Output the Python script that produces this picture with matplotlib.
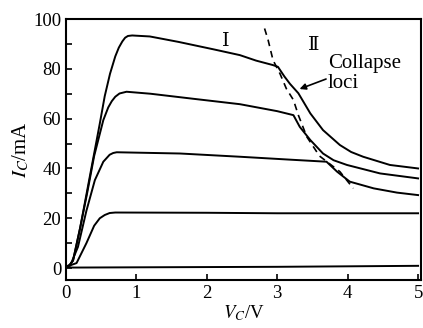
import matplotlib
matplotlib.use("Agg")
import matplotlib.pyplot as plt

plt.rcParams["font.family"] = ["Liberation Serif", "DejaVu Serif", "Noto Sans CJK SC"]
plt.rcParams["mathtext.fontset"] = "stix"

# I-V curves (V_C in V, I_C in mA)
v_93 = [0, 0.05, 0.1, 0.2, 0.3, 0.4, 0.48, 0.55, 0.625, 0.7, 0.75, 0.8, 0.84, 0.88, 0.94, 1.0,
        1.19, 1.34, 1.6, 1.8, 2.1, 2.47, 2.7, 2.94, 3.01, 3.1, 3.18, 3.30, 3.47, 3.65,
        3.89, 4.05, 4.22, 4.60, 5.0]
i_93 = [0.5, 1.2, 3, 16, 31, 46, 58, 69, 78, 85, 88.5, 91, 92.5, 93.2, 93.4, 93.3,
        93, 92.2, 90.8, 89.6, 87.8, 85.5, 83.3, 81.5, 80.8, 77, 74, 70.2, 62.1, 55.4,
        49.4, 46.6, 44.7, 41.4, 40]

v_70 = [0, 0.05, 0.1, 0.2, 0.3, 0.4, 0.53, 0.6, 0.65, 0.7, 0.76, 0.86, 1.2, 1.8, 2.47,
        3.0, 3.23, 3.32, 3.47, 3.65, 3.8, 3.99, 4.46, 5.0]
i_70 = [0.5, 1.2, 3, 16, 30, 45, 59.4, 64.5, 67, 68.8, 70.1, 70.8, 70, 68, 65.8,
        63, 61.4, 56.7, 51.4, 46, 43.3, 41.4, 38, 36]

v_47 = [0, 0.06, 0.17, 0.29, 0.41, 0.53, 0.62, 0.67, 0.72, 1.62, 2.47, 3.2, 3.70,
        3.85, 4.03, 4.37, 4.70, 5.0]
i_47 = [0.5, 1, 8.5, 23, 35.3, 42.7, 45.5, 46.2, 46.5, 46, 44.7, 43.5, 42.7,
        38.7, 34.7, 32, 30.3, 29.3]

v_22 = [0, 0.15, 0.29, 0.4, 0.48, 0.55, 0.62, 0.7, 2.0, 3.0, 5.0]
i_22 = [0.5, 2, 10, 17, 20, 21.3, 22.1, 22.3, 22.2, 22, 22]

v_1 = [0, 0.1, 1.0, 3.0, 5.0]
i_1 = [0.3, 0.2, 0.3, 0.5, 0.9]

# collapse locus (dashed)
v_loci = [2.82, 2.87, 2.94, 3.04, 3.13, 3.23, 3.30, 3.42, 3.6, 3.89, 4.08]
i_loci = [96.2, 91.6, 83.5, 78, 72, 67.5, 61.4, 52.7, 45, 38.7, 32]

fig = plt.figure(figsize=(4.23, 3.28), dpi=100)
ax = fig.add_axes([0.156, 0.1463, 0.839, 0.7957])

for v, i in [(v_93, i_93), (v_70, i_70), (v_47, i_47), (v_22, i_22), (v_1, i_1)]:
    ax.plot(v, i, color="black", lw=1.4, solid_joinstyle="round")
ax.plot(v_loci, i_loci, color="black", lw=1.2, linestyle=(0, (4, 3)))

ax.set_xlim(0, 5.04)
ax.set_ylim(-4.8, 100)
ax.set_xticks([0, 1, 2, 3, 4, 5])
ax.set_yticks(range(0, 101, 10))
ax.set_yticklabels([str(t) if t % 20 == 0 else "" for t in range(0, 101, 10)])
ax.tick_params(direction="in", labelsize=13.5, length=4, width=1.2, colors="black")
for s in ax.spines.values():
    s.set_linewidth(1.5)

ax.set_xlabel(r"$V_C$/V", fontsize=13.5, labelpad=1)
ax.set_ylabel(r"$I_C$/mA", fontsize=15, labelpad=1)

ax.text(2.27, 91, "Ⅰ", fontsize=14, ha="center", va="center")
ax.text(3.52, 89.5, "Ⅱ", fontsize=14, ha="center", va="center")
ax.text(3.72, 82.3, "Collapse", fontsize=15, ha="left", va="center")
ax.text(3.72, 74.3, "loci", fontsize=15, ha="left", va="center")
ax.annotate("", xy=(3.28, 71.5), xytext=(3.73, 76.3),
            arrowprops=dict(arrowstyle="-|>", color="black", lw=1.2, mutation_scale=9))

fig.savefig("out.png", dpi=100)
